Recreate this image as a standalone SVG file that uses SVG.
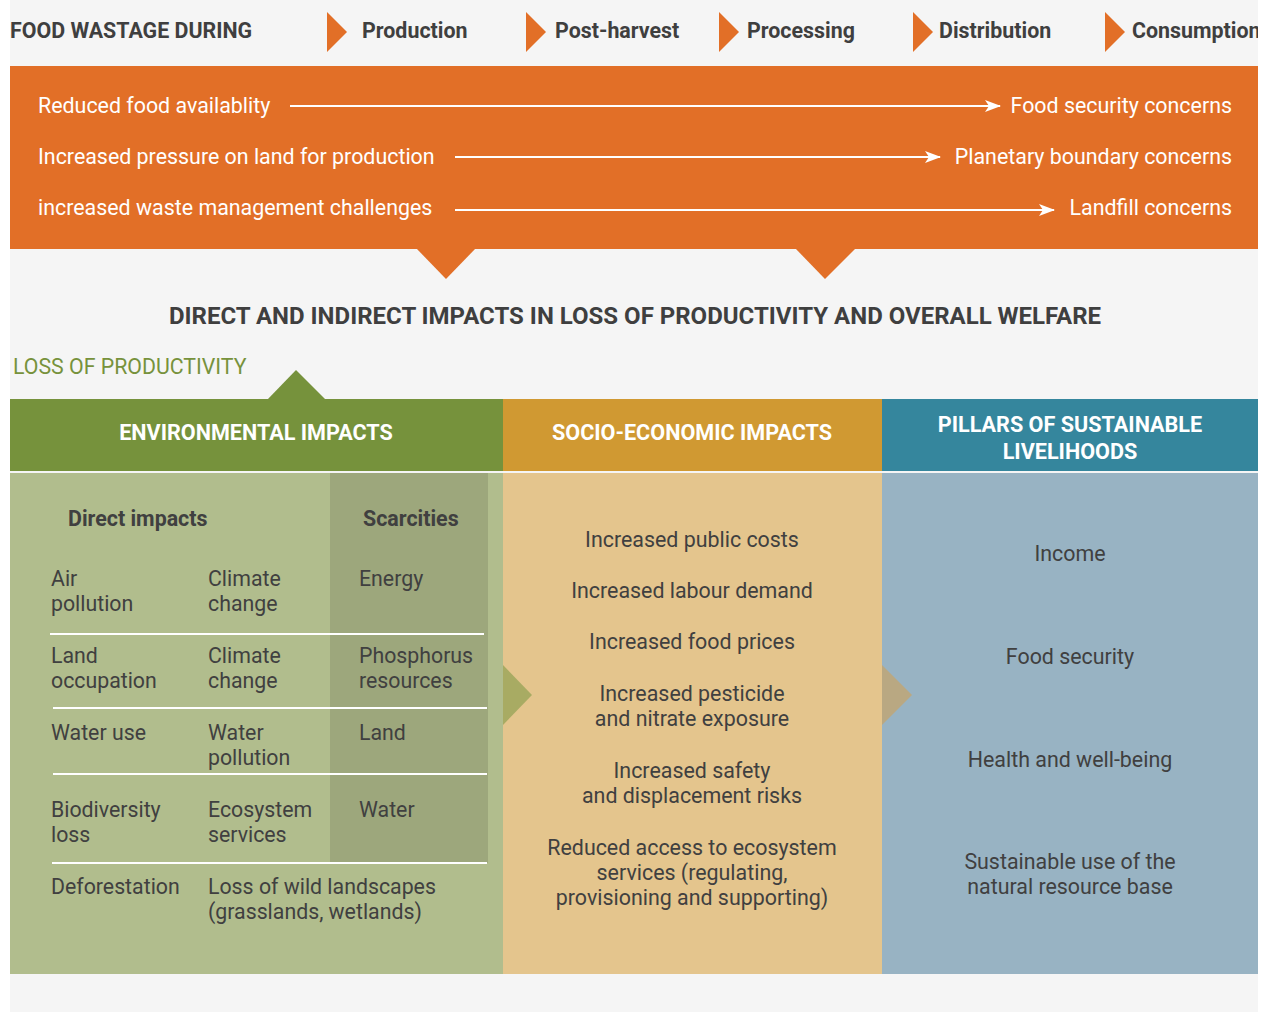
<svg xmlns="http://www.w3.org/2000/svg" width="1261" height="1012" viewBox="0 0 1261 1012">
<defs>
<style>
text{font-family:Roboto,"Liberation Sans",Arial,sans-serif;}
.hd{font-size:21.4px;font-weight:bold;fill:#3f3f3f;}
.wt{font-size:21.4px;fill:#ffffff;}
.wb{font-size:21.6px;font-weight:bold;fill:#ffffff;text-anchor:middle;}
.it{font-size:21.3px;fill:#404040;}
.ic{font-size:21.4px;fill:#404040;text-anchor:middle;}
.ib{font-size:21.4px;font-weight:bold;fill:#404040;}
.arr{stroke:#ffffff;stroke-width:2;fill:none;marker-end:url(#ah);}
.sep{stroke:#ffffff;stroke-width:2;}
</style>
<marker id="ah" viewBox="0 0 16 12" refX="15" refY="6" markerWidth="16" markerHeight="12" markerUnits="userSpaceOnUse" orient="auto">
<path d="M0,0 L16,6 L0,12 L4,6 Z" fill="#ffffff"/>
</marker>
<clipPath id="clipR"><rect x="0" y="0" width="1258" height="1012"/></clipPath>
</defs>
<rect x="0" y="0" width="1261" height="1012" fill="#ffffff"/>
<rect x="10" y="0" width="1248" height="1012" fill="#f5f5f5"/>

<g id="stages" clip-path="url(#clipR)">
<text class="hd" x="10" y="38">FOOD WASTAGE DURING</text>
<path d="M327,12 L347,32 L327,52 Z" fill="#e26f27"/>
<text class="hd" x="362" y="38">Production</text>
<path d="M526,12 L546,32 L526,52 Z" fill="#e26f27"/>
<text class="hd" x="555" y="38">Post-harvest</text>
<path d="M719,12 L739,32 L719,52 Z" fill="#e26f27"/>
<text class="hd" x="747" y="38">Processing</text>
<path d="M913,12 L933,32 L913,52 Z" fill="#e26f27"/>
<text class="hd" x="939" y="38">Distribution</text>
<path d="M1105,12 L1125,32 L1105,52 Z" fill="#e26f27"/>
<text class="hd" x="1132" y="38">Consumption</text>
</g>

<g id="consequences">
<rect x="10" y="66" width="1248" height="183" fill="#e26f27"/>
<path d="M416,248 L476,248 L446,279 Z" fill="#e26f27"/>
<path d="M795,248 L856,248 L825,279 Z" fill="#e26f27"/>
<text class="wt" x="38" y="113">Reduced food availablity</text>
<text class="wt" x="1232" y="113" text-anchor="end">Food security concerns</text>
<text class="wt" x="38" y="164">Increased pressure on land for production</text>
<text class="wt" x="1232" y="164" text-anchor="end">Planetary boundary concerns</text>
<text class="wt" x="38" y="215">increased waste management challenges</text>
<text class="wt" x="1232" y="215" text-anchor="end">Landfill concerns</text>
</g>

<g id="connectors">
<line class="arr" x1="290" y1="106" x2="1000" y2="106"/>
<line class="arr" x1="455" y1="157" x2="940" y2="157"/>
<line class="arr" x1="455" y1="210" x2="1054" y2="210"/>
</g>

<g id="title">
<text x="635" y="324" text-anchor="middle" style="font-size:24px;font-weight:bold;fill:#3f3f3f">DIRECT AND INDIRECT IMPACTS IN LOSS OF PRODUCTIVITY AND OVERALL WELFARE</text>
<text x="13" y="374" style="font-size:21.3px;fill:#77923c">LOSS OF PRODUCTIVITY</text>
</g>

<g id="environmental">
<path d="M267,400 L296,370 L326,400 Z" fill="#76923c"/>
<rect x="10" y="399" width="493" height="72" fill="#76923c"/>
<text class="wb" x="256" y="440">ENVIRONMENTAL IMPACTS</text>
<rect x="10" y="473" width="493" height="501" fill="#b1bd8d"/>
<rect x="330" y="473" width="158" height="390" fill="#9da77c"/>
<line class="sep" x1="50" y1="634" x2="484" y2="634"/>
<line class="sep" x1="53" y1="708" x2="487" y2="708"/>
<line class="sep" x1="53" y1="774" x2="487" y2="774"/>
<line class="sep" x1="52" y1="863" x2="487" y2="863"/>
<text class="ib" x="68" y="526">Direct impacts</text>
<text class="ib" x="363" y="526">Scarcities</text>
<text class="it" x="51" y="586">Air</text>
<text class="it" x="51" y="611">pollution</text>
<text class="it" x="208" y="586">Climate</text>
<text class="it" x="208" y="611">change</text>
<text class="it" x="359" y="586">Energy</text>
<text class="it" x="51" y="663">Land</text>
<text class="it" x="51" y="688">occupation</text>
<text class="it" x="208" y="663">Climate</text>
<text class="it" x="208" y="688">change</text>
<text class="it" x="359" y="663">Phosphorus</text>
<text class="it" x="359" y="688">resources</text>
<text class="it" x="51" y="740">Water use</text>
<text class="it" x="208" y="740">Water</text>
<text class="it" x="208" y="765">pollution</text>
<text class="it" x="359" y="740">Land</text>
<text class="it" x="51" y="817">Biodiversity</text>
<text class="it" x="51" y="842">loss</text>
<text class="it" x="208" y="817">Ecosystem</text>
<text class="it" x="208" y="842">services</text>
<text class="it" x="359" y="817">Water</text>
<text class="it" x="51" y="894">Deforestation</text>
<text class="it" x="208" y="894">Loss of wild landscapes</text>
<text class="it" x="208" y="919">(grasslands, wetlands)</text>
</g>

<g id="socio-economic">
<rect x="503" y="399" width="379" height="72" fill="#d09932"/>
<text class="wb" x="692" y="440">SOCIO-ECONOMIC IMPACTS</text>
<rect x="503" y="473" width="379" height="501" fill="#e4c58d"/>
<path d="M503,665 L532,695 L503,725 Z" fill="#a8ab63"/>
<text class="ic" x="692" y="547">Increased public costs</text>
<text class="ic" x="692" y="598">Increased labour demand</text>
<text class="ic" x="692" y="649">Increased food prices</text>
<text class="ic" x="692" y="701">Increased pesticide</text>
<text class="ic" x="692" y="726">and nitrate exposure</text>
<text class="ic" x="692" y="778">Increased safety</text>
<text class="ic" x="692" y="803">and displacement risks</text>
<text class="ic" x="692" y="855">Reduced access to ecosystem</text>
<text class="ic" x="692" y="880">services (regulating,</text>
<text class="ic" x="692" y="905">provisioning and supporting)</text>
</g>

<g id="pillars">
<rect x="882" y="399" width="376" height="72" fill="#35869d"/>
<text class="wb" x="1070" y="432">PILLARS OF SUSTAINABLE</text>
<text class="wb" x="1070" y="459">LIVELIHOODS</text>
<rect x="882" y="473" width="376" height="501" fill="#98b3c3"/>
<path d="M882,665 L912,695 L882,725 Z" fill="#b9a882"/>
<text class="ic" x="1070" y="561">Income</text>
<text class="ic" x="1070" y="664">Food security</text>
<text class="ic" x="1070" y="767">Health and well-being</text>
<text class="ic" x="1070" y="869">Sustainable use of the</text>
<text class="ic" x="1070" y="894">natural resource base</text>
</g>
</svg>
